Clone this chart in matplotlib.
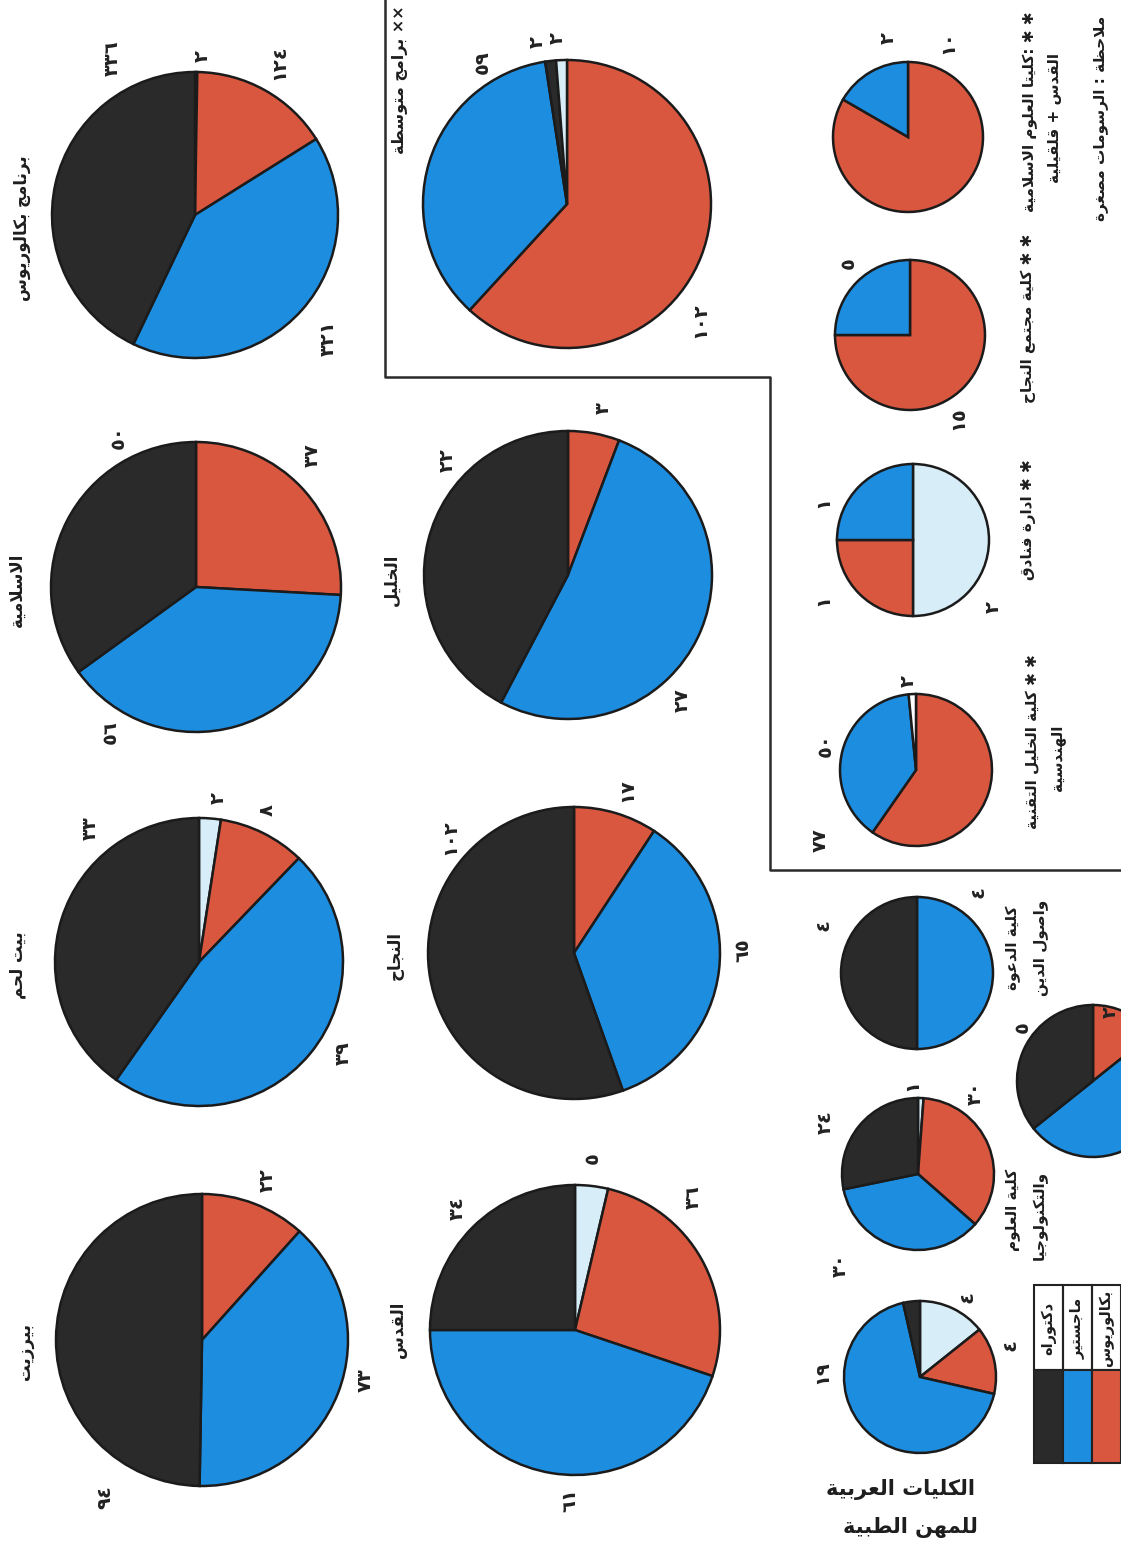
import matplotlib
matplotlib.use('Agg')
import matplotlib.pyplot as plt
from matplotlib.patches import Rectangle

plt.rcParams['font.family'] = ['DejaVu Sans']

# Arabic shaping (matplotlib has no bidi / joining) #############
_TAB = [('ء', 0xFE80, 1), ('آ', 0xFE81, 2), ('أ', 0xFE83, 2), ('ؤ', 0xFE85, 2),
        ('إ', 0xFE87, 2), ('ئ', 0xFE89, 4), ('ا', 0xFE8D, 2), ('ب', 0xFE8F, 4),
        ('ة', 0xFE93, 2), ('ت', 0xFE95, 4), ('ث', 0xFE99, 4), ('ج', 0xFE9D, 4),
        ('ح', 0xFEA1, 4), ('خ', 0xFEA5, 4), ('د', 0xFEA9, 2), ('ذ', 0xFEAB, 2),
        ('ر', 0xFEAD, 2), ('ز', 0xFEAF, 2), ('س', 0xFEB1, 4), ('ش', 0xFEB5, 4),
        ('ص', 0xFEB9, 4), ('ض', 0xFEBD, 4), ('ط', 0xFEC1, 4), ('ظ', 0xFEC5, 4),
        ('ع', 0xFEC9, 4), ('غ', 0xFECD, 4), ('ف', 0xFED1, 4), ('ق', 0xFED5, 4),
        ('ك', 0xFED9, 4), ('ل', 0xFEDD, 4), ('م', 0xFEE1, 4), ('ن', 0xFEE5, 4),
        ('ه', 0xFEE9, 4), ('و', 0xFEED, 2), ('ى', 0xFEEF, 2), ('ي', 0xFEF1, 4)]
FORMS = {c: (b, n) for c, b, n in _TAB}
LAMALEF = {'آ': 0xFEF5, 'أ': 0xFEF7, 'إ': 0xFEF9, 'ا': 0xFEFB}


def ar(s):
    ch = list(s)
    res = []
    i = 0
    dual = lambda c: c is not None and c in FORMS and FORMS[c][1] == 4
    joins = lambda c: c is not None and c in FORMS and FORMS[c][1] > 1
    while i < len(ch):
        c = ch[i]
        prev = ch[i - 1] if i > 0 else None
        nxt = ch[i + 1] if i + 1 < len(ch) else None
        if c not in FORMS:
            res.append(c)
            i += 1
            continue
        jp = dual(prev)
        if c == 'ل' and nxt in LAMALEF:
            res.append(chr(LAMALEF[nxt] + (1 if jp else 0)))
            i += 2
            continue
        base, n = FORMS[c]
        jn = n == 4 and joins(nxt)
        if n == 1:
            f = 0
        elif jp and jn:
            f = 3
        elif jp:
            f = 1
        elif jn:
            f = 2
        else:
            f = 0
        res.append(chr(base + f))
        i += 1
    return ''.join(reversed(res))


def ind(v):
    return str(v).translate(str.maketrans('0123456789', '٠١٢٣٤٥٦٧٨٩'))


# Data ####################################################
RED = '#d9573f'
BLUE = '#1d8de0'
BLACK = '#2a2a2a'
LBLUE = '#d7edf7'
WHITE = '#ffffff'

bach_prog = [2, 124, 321, 336]
islamic = [37, 56, 50]
bethlehem = [2, 8, 39, 33]
birzeit = [22, 73, 94]
inter_prog = [102, 59, 2, 2]
hebron = [3, 27, 22]
najah = [17, 65, 102]
quds = [5, 36, 61, 34]
hebron_tech = [77, 50, 2]
hotels = [2, 1, 1]
najah_comm = [15, 5]
islamic_sci = [10, 2]
dawa = [4, 4]
sci_tech = [1, 30, 30, 24]
cut_pie = [2, 7, 5]
medical = [4, 4, 19, 1]

legend_names = ['دكتوراه', 'ماجستير', 'بكالوريوس']
legend_cols = [BLACK, BLUE, RED]
###########################################################

W, H = 1121, 1544
fig = plt.figure(figsize=(W / 100, H / 100), dpi=100)
ax = fig.add_axes([0, 0, 1, 1])

# (values, colours, centre, radius, label positions)
pies = [
    (bach_prog, [WHITE, RED, BLUE, BLACK], (195, 215), 143,
     [(202, 56), (279, 62), (328, 338), (112, 58)]),
    (islamic, [RED, BLUE, BLACK], (196, 587), 145,
     [(312, 455), (110, 732), (118, 437)]),
    (bethlehem, [LBLUE, RED, BLUE, BLACK], (199, 962), 144,
     [(218, 798), (267, 810), (343, 1053), (90, 828)]),
    (birzeit, [RED, BLUE, BLACK], (202, 1340), 146,
     [(267, 1180), (365, 1380), (105, 1497)]),
    (inter_prog, [RED, BLUE, BLACK, LBLUE], (567, 204), 144,
     [(700, 320), (482, 62), (537, 42), (557, 38)]),
    (hebron, [RED, BLUE, BLACK], (568, 575), 144,
     [(603, 408), (682, 700), (447, 460)]),
    (najah, [RED, BLUE, BLACK], (574, 953), 146,
     [(627, 790), (743, 950), (450, 837)]),
    (quds, [LBLUE, RED, BLUE, BLACK], (575, 1330), 145,
     [(592, 1158), (693, 1197), (570, 1500), (457, 1208)]),
    (hebron_tech, [RED, BLUE, WHITE], (916, 770), 76,
     [(820, 840), (825, 745), (908, 681)]),
    (hotels, [LBLUE, RED, BLUE], (913, 540), 76,
     [(993, 607), (823, 600), (823, 502)]),
    (najah_comm, [RED, BLUE], (910, 335), 75,
     [(958, 418), (848, 263)]),
    (islamic_sci, [RED, BLUE], (908, 137), 75,
     [(948, 42), (888, 38)]),
    (dawa, [BLUE, BLACK], (917, 973), 76,
     [(978, 892), (823, 925)]),
    (sci_tech, [LBLUE, RED, BLUE, BLACK], (918, 1174), 76,
     [(912, 1085), (975, 1093), (840, 1265), (825, 1122)]),
    (cut_pie, [RED, BLUE, BLACK], (1093, 1081), 76,
     [(1110, 1012), None, (1022, 1027)]),
    (medical, [LBLUE, RED, BLUE, BLACK], (920, 1377), 76,
     [(967, 1297), (1010, 1345), (822, 1372), None]),
]

for vals, cols, (cx, cy), r, labs in pies:
    ax.pie(vals, colors=cols, startangle=90, counterclock=False,
           center=(cx, H - cy), radius=r,
           wedgeprops=dict(edgecolor='#1b1b1b', linewidth=1.8))
    for v, p in zip(vals, labs):
        if p is None:
            continue
        ax.text(p[0], H - p[1], ind(v), rotation=90, fontsize=14,
                fontweight='bold', ha='center', va='center', color='#222222')

# titles (rotated, as on the page)
titles = [
    ('برنامج بكالوريوس', (22, 228), 12),
    ('الاسلامية', (17, 590), 12),
    ('بيت لحم', (17, 965), 12),
    ('بيرزيت', (25, 1352), 12),
    ('×× برامج متوسطة', (400, 80), 11.5),
    ('الخليل', (392, 580), 12),
    ('النجاح', (395, 955), 12),
    ('القدس', (398, 1330), 12),
    ('✱ ✱ :كليتا العلوم الاسلامية', (1030, 112), 11),
    ('القدس + قلقيلية', (1055, 118), 11),
    ('✱ ✱ كلية مجتمع النجاح', (1028, 318), 11),
    ('✱ ✱ ادارة فنادق', (1028, 520), 11),
    ('✱ ✱ كلية الخليل التقنية', (1033, 742), 11),
    ('الهندسية', (1058, 758), 11),
    ('ملاحظة : الرسومات مصغرة', (1100, 118), 11),
    ('كلية الدعوة', (1013, 948), 11),
    ('واصول الدين', (1040, 948), 11),
    ('كلية العلوم', (1013, 1210), 11),
    ('والتكنولوجيا', (1040, 1215), 11),
]
for s, (x, y), fs in titles:
    ax.text(x, H - y, ar(s), rotation=90, fontsize=fs, fontweight='bold',
            ha='center', va='center', color='#1e1e1e')

ax.text(900, H - 1490, ar('الكليات العربية'), fontsize=15, fontweight='bold',
        ha='center', va='center', color='#1e1e1e')
ax.text(910, H - 1527, ar('للمهن الطبية'), fontsize=15, fontweight='bold',
        ha='center', va='center', color='#1e1e1e')

# frame of the "box" around the intermediate programmes
ax.plot([385, 385, 770, 770, W], [H, H - 377, H - 377, H - 870, H - 870],
        color='#2a2a2a', lw=1.8)

# legend table
x0, cw = 1034, 29
for k, (name, col) in enumerate(zip(legend_names, legend_cols)):
    xl = x0 + k * cw
    ax.add_patch(Rectangle((xl, H - 1370), cw, 85, fill=False,
                           edgecolor='#222222', lw=1.5))
    ax.add_patch(Rectangle((xl, H - 1463), cw, 93, facecolor=col,
                           edgecolor='#222222', lw=1.5))
    ax.text(xl + cw / 2, H - 1328, ar(name), rotation=90, fontsize=10.5,
            fontweight='bold', ha='center', va='center', color='#1e1e1e')

ax.set_xlim(0, W)
ax.set_ylim(0, H)
ax.set_aspect('auto')
ax.axis('off')

fig.savefig('out.png', dpi=100, facecolor='white')
